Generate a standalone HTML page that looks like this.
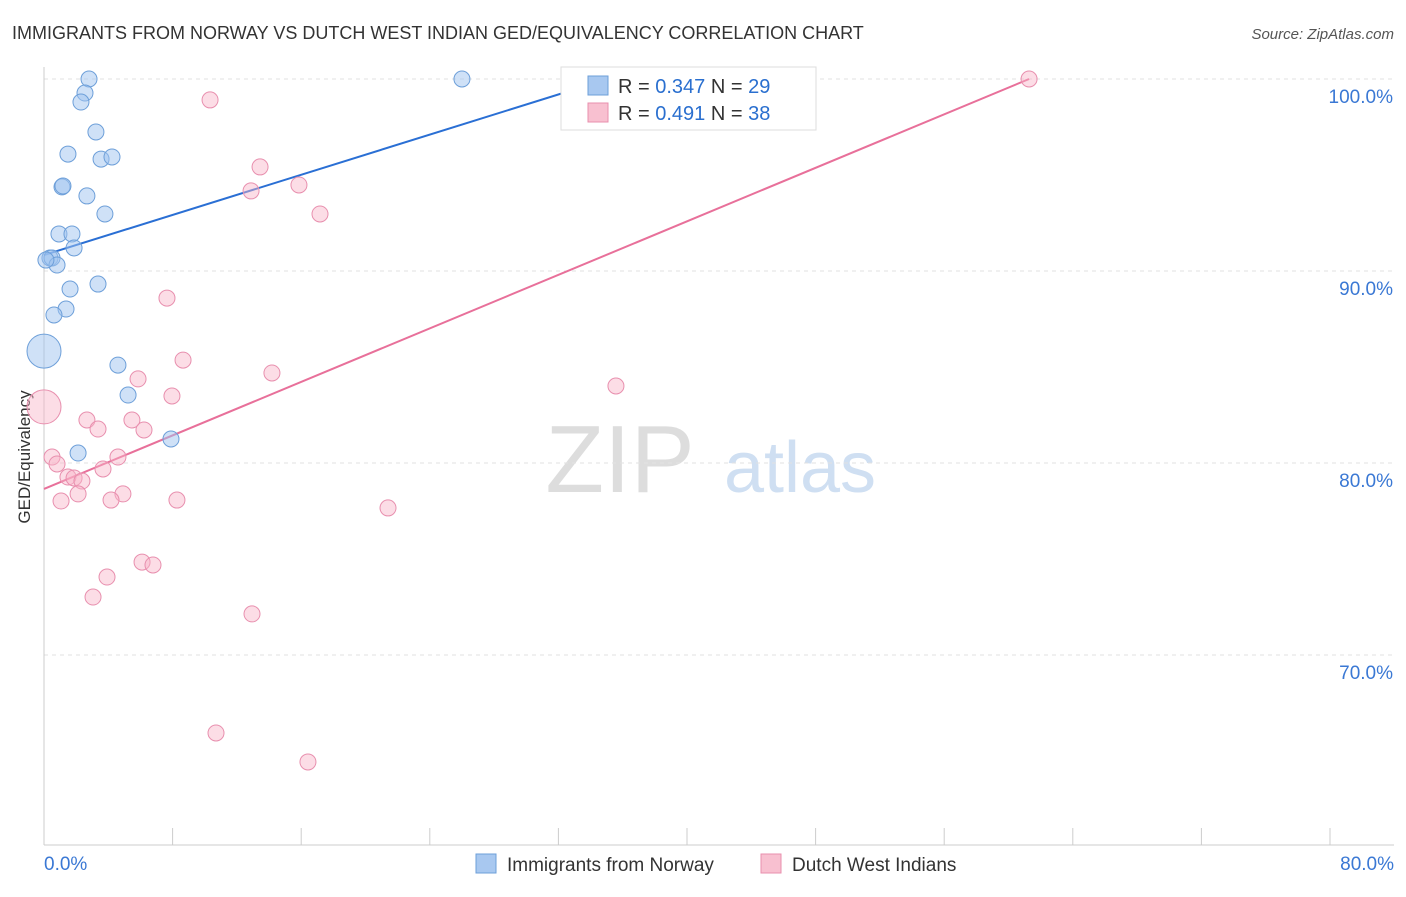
<!DOCTYPE html>
<html><head><meta charset="utf-8"><style>
body{margin:0;background:#fff;font-family:"Liberation Sans",sans-serif}
svg text{font-family:"Liberation Sans",sans-serif}
</style></head><body>
<svg id="chart" width="1406" height="892">
<text x="12" y="39" font-size="18" fill="#333">IMMIGRANTS FROM NORWAY VS DUTCH WEST INDIAN GED/EQUIVALENCY CORRELATION CHART</text>
<text x="1394" y="39" font-size="15" fill="#555" font-style="italic" text-anchor="end">Source: ZipAtlas.com</text>
<text x="30" y="457" font-size="17" fill="#333" text-anchor="middle" transform="rotate(-90 30 457)">GED/Equivalency</text>
<text x="620" y="492" font-size="96" fill="#ddd" font-family="Liberation Serif" text-anchor="middle">ZIP</text>
<text x="800" y="492" font-size="72" fill="#cfdff2" text-anchor="middle">atlas</text>
<g id="grid"></g><g id="axes"></g><g id="lines"></g><g id="pts"></g>
<g>
<rect x="561" y="67" width="255" height="63" fill="#fff" stroke="#ddd"/>
<rect x="588" y="76" width="20" height="19" fill="#a8c8f0" stroke="#6d9fd9"/>
<text x="618" y="93" font-size="20" fill="#333">R = <tspan fill="#2a6fcf">0.347</tspan>   N = <tspan fill="#2a6fcf">29</tspan></text>
<rect x="588" y="103" width="20" height="19" fill="#f8c0d0" stroke="#e88fae"/>
<text x="618" y="120" font-size="20" fill="#333">R = <tspan fill="#2a6fcf">0.491</tspan>   N = <tspan fill="#2a6fcf">38</tspan></text>
</g>
<g>
<rect x="476" y="854" width="20" height="19" fill="#a8c8f0" stroke="#6d9fd9"/>
<text x="507" y="871" font-size="19" fill="#333">Immigrants from Norway</text>
<rect x="761" y="854" width="20" height="19" fill="#f8c0d0" stroke="#e88fae"/>
<text x="792" y="871" font-size="19" fill="#333">Dutch West Indians</text>
</g>
</svg>
<script>
const blueX=[2.80,26.0,33.0,2.55,2.30,3.23,1.49,3.55,4.23,1.12,1.18,2.67,3.79,0.93,1.74,1.87,0.37,0.50,0.81,3.36,1.62,1.37,0.62,0,4.60,5.23,7.90,2.12,0.12];
const blueY=[100,100,100,99.27,98.80,97.24,96.09,95.83,95.94,94.38,94.43,93.91,92.97,91.93,91.93,91.20,90.68,90.68,90.31,89.32,89.06,88.02,87.71,85.83,85.10,83.54,81.25,80.52,90.57];
const pinkX=[61.28,10.33,13.44,12.88,15.86,17.17,7.65,8.65,14.18,5.85,7.96,35.58,0,2.67,5.47,3.36,6.22,0.50,4.60,0.81,3.67,1.49,1.87,2.36,2.12,4.91,4.17,1.06,8.27,21.40,6.10,6.78,3.92,3.05,12.94,10.70,16.42];
const pinkY=[100,98.91,95.42,94.17,94.48,92.97,88.59,85.36,84.69,84.38,83.49,84.01,82.92,82.24,82.24,81.77,81.72,80.31,80.31,79.95,79.69,79.27,79.22,79.06,78.39,78.39,78.07,78.02,78.07,77.66,74.84,74.69,74.06,73.02,72.14,65.94,64.43];
const blueTrend=[[0,90.83],[35.08,100]];
const pinkTrend=[[0,78.65],[61.28,100]];
const yTicks=[100,90,80,70];
const yTickLabels=["100.0%","90.0%","80.0%","70.0%"];
const xTickCount=10;
const NS="http://www.w3.org/2000/svg";
const sx=v=>44+v*16.075, sy=v=>79+(100-v)*19.2;
function mk(t,a,p){const e=document.createElementNS(NS,t);for(const k in a)e.setAttribute(k,a[k]);p.appendChild(e);return e;}
const grid=document.getElementById('grid'),axes=document.getElementById('axes');
yTicks.forEach((v,i)=>{
 const l=mk('line',{x1:44,x2:1394,y1:sy(v),y2:sy(v),stroke:'#e2e2e2','stroke-dasharray':'4,4'},grid);
 
 
 const t=mk('text',{x:1393,y:sy(v)+24,'font-size':19,fill:'#3a78d4','text-anchor':'end'},axes);
 t.textContent=yTickLabels[i];
 
 
});
const ax=mk('line',{x1:44,x2:1394,y1:845,y2:845,stroke:'#ccc'},axes);


const ay=mk('line',{x1:44,x2:44,y1:67,y2:845,stroke:'#ccc'},axes);


for(let i=0;i<=xTickCount;i++){const x=sx(i*8);
 const t=mk('line',{x1:x,x2:x,y1:828,y2:845,stroke:'#ccc'},axes);
 
 }
[[0,"0.0%",'start',44],[80,"80.0%",'end',1394]].forEach(d=>{
 const t=mk('text',{x:d[3],y:870,'font-size':19,fill:'#3a78d4','text-anchor':d[2]},axes);t.textContent=d[1];
 
 });
const pts=document.getElementById('pts'),lines=document.getElementById('lines');
function dots(X,Y,fill,stroke,name){X.forEach((x,i)=>{
 const r=(x===0)?17:8;
 const c=mk('circle',{cx:sx(x),cy:sy(Y[i]),r:r,fill:fill,stroke:stroke,'stroke-width':1},pts);
 
 });}
dots(pinkX,pinkY,'rgba(248,180,200,0.45)','#e88fae','point-dutch');
dots(blueX,blueY,'rgba(160,196,240,0.5)','#6d9fd9','point-norway');
const bl=mk('line',{x1:sx(blueTrend[0][0]),y1:sy(blueTrend[0][1]),x2:sx(blueTrend[1][0]),y2:sy(blueTrend[1][1]),stroke:'#2a6fd4','stroke-width':2},lines);


const pl=mk('line',{x1:sx(pinkTrend[0][0]),y1:sy(pinkTrend[0][1]),x2:sx(pinkTrend[1][0]),y2:sy(pinkTrend[1][1]),stroke:'#e8709a','stroke-width':2},lines);


</script>
</body></html>
